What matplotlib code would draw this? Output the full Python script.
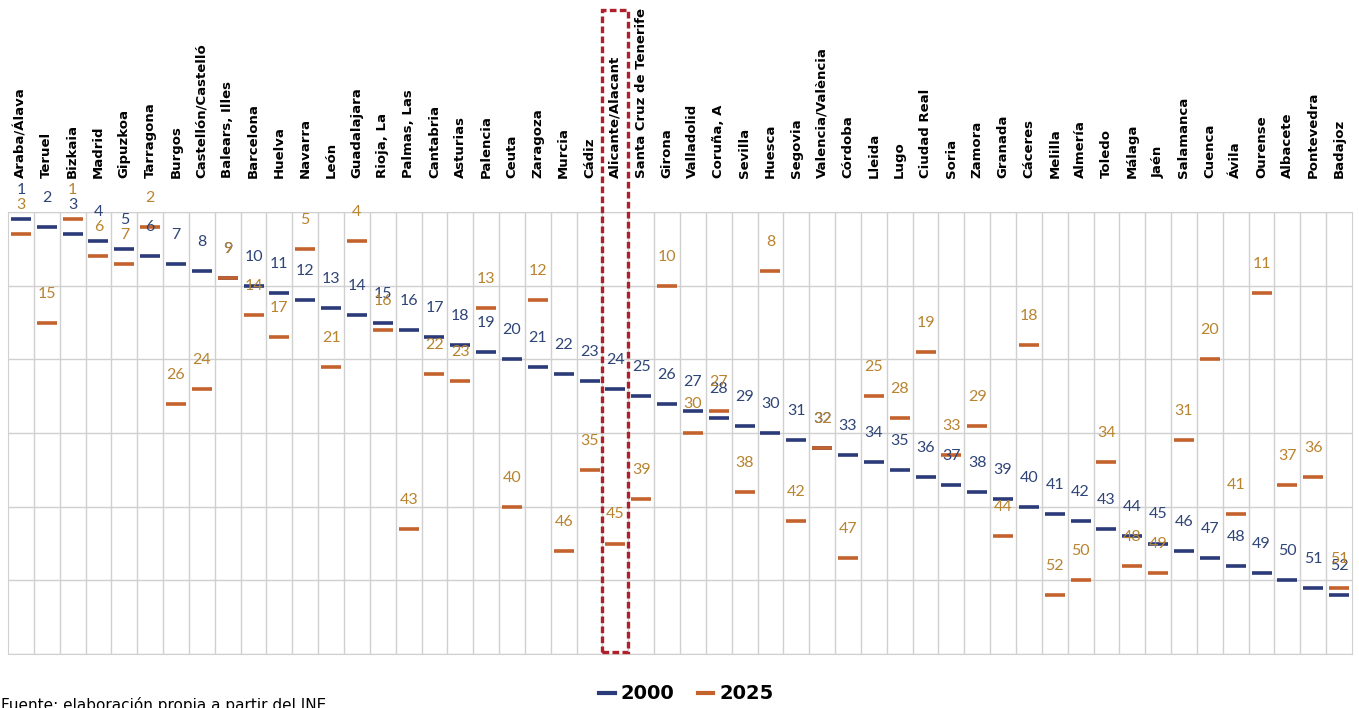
import matplotlib.pyplot as plt
from matplotlib.lines import Line2D
from matplotlib.patches import Rectangle
import matplotlib.transforms as mtransforms

provincias = [
    "Araba/Álava", "Teruel", "Bizkaia", "Madrid", "Gipuzkoa", "Tarragona", "Burgos",
    "Castellón/Castelló", "Balears, Illes", "Barcelona", "Huelva", "Navarra", "León",
    "Guadalajara", "Rioja, La", "Palmas, Las", "Cantabria", "Asturias", "Palencia",
    "Ceuta", "Zaragoza", "Murcia", "Cádiz", "Alicante/Alacant", "Santa Cruz de Tenerife",
    "Girona", "Valladolid", "Coruña, A", "Sevilla", "Huesca", "Segovia",
    "Valencia/València", "Córdoba", "Lleida", "Lugo", "Ciudad Real", "Soria", "Zamora",
    "Granada", "Cáceres", "Melilla", "Almería", "Toledo", "Málaga", "Jaén", "Salamanca",
    "Cuenca", "Ávila", "Ourense", "Albacete", "Pontevedra", "Badajoz",
]
rank_2000 = list(range(1, 53))
rank_2025 = [3, 15, 1, 6, 7, 2, 26, 24, 9, 14, 17, 5, 21, 4, 16, 43, 22, 23, 13, 40,
             12, 46, 35, 45, 39, 10, 30, 27, 38, 8, 42, 32, 47, 25, 28, 19, 33, 29,
             44, 18, 52, 50, 34, 48, 49, 31, 20, 41, 11, 37, 36, 51]
destacada = "Alicante/Alacant"

c_2000 = "#2B3A78"
c_2025 = "#C4622D"
t_2000 = "#2F4577"
t_2025 = "#B8842F"

fig = plt.figure(figsize=(13.59, 7.08), dpi=100)
ax = fig.add_axes([8 / 1359, 1 - 654 / 708, 1344 / 1359, 442 / 708])

n = len(provincias)
x = list(range(n))

ax.set_xlim(-0.5, n - 0.5)
ax.set_ylim(60, 0)
ax.set_yticks(range(0, 61, 10))
ax.set_xticks([i + 0.5 for i in range(n - 1)])
ax.tick_params(length=0, labelleft=False, labelbottom=False)
ax.grid(True, color="#D0D0D0", linewidth=1)
ax.set_axisbelow(True)
for s in ax.spines.values():
    s.set_color("#D0D0D0")

ax.plot(x, rank_2000, linestyle="none", marker="_", markersize=14,
        markeredgewidth=2.6, color=c_2000, zorder=3)
ax.plot(x, rank_2025, linestyle="none", marker="_", markersize=14,
        markeredgewidth=2.6, color=c_2025, zorder=3)

for i in x:
    ax.annotate(str(rank_2000[i]), (i, rank_2000[i]), xytext=(0, 29),
                textcoords="offset pixels", ha="center", va="center",
                fontsize=11.5, color=t_2000, family="Lato",
                annotation_clip=False, zorder=5)
    ax.annotate(str(rank_2025[i]), (i, rank_2025[i]), xytext=(0, 29),
                textcoords="offset pixels", ha="center", va="center",
                fontsize=11.5, color=t_2025, family="Lato",
                annotation_clip=False, zorder=5)
    ax.text(i, 1.077, provincias[i], transform=ax.get_xaxis_transform(),
            rotation=90, ha="center", va="bottom", fontsize=9.5,
            fontweight="bold", family=["Liberation Sans Narrow", "DejaVu Sans"])

k = provincias.index(destacada)
trans = mtransforms.blended_transform_factory(ax.transData, ax.transAxes)
ax.add_patch(Rectangle((k - 0.5, 0.005), 1.0, 1.452, transform=trans,
                       fill=False, edgecolor="#B0202A", linestyle=(0, (2, 1)),
                       linewidth=2.4, clip_on=False, zorder=6))

handles = [Line2D([], [], color=c_2000, linewidth=3),
           Line2D([], [], color=c_2025, linewidth=3)]
fig.legend(handles, ["2000", "2025"], loc="center", bbox_to_anchor=(0.505, 0.02),
           ncol=2, frameon=False, handlelength=0.8, handletextpad=0.3,
           columnspacing=1.2, prop={"weight": "bold", "size": 14})

fig.text(0.001, 0.016, "Fuente: elaboración propia a partir del INE", ha="left",
         va="top", fontsize=11, family=["Liberation Sans Narrow", "DejaVu Sans"])

fig.savefig("out.png", dpi=100)
